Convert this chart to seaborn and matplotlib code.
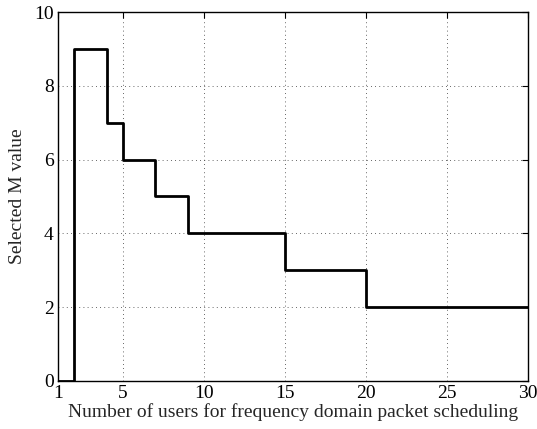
import numpy as np
import pandas as pd
import matplotlib.pyplot as plt
import seaborn as sns

# selected M per number of users (step, post)
users = list(range(1, 31))
m_value = [0, 9, 9, 7, 6, 6, 5, 5, 4, 4, 4, 4, 4, 4,
           3, 3, 3, 3, 3, 2, 2, 2, 2, 2, 2, 2, 2, 2, 2, 2]
x_ticks = [1, 5, 10, 15, 20, 25, 30]
y_ticks = [0, 2, 4, 6, 8, 10]

df = pd.DataFrame({'users': users, 'M': m_value})

sns.set_style('white')
plt.rcParams['font.family'] = ['Liberation Serif', 'DejaVu Serif']

fig = plt.figure(figsize=(5.37, 4.29), dpi=100)
ax = fig.add_axes([0.108, 0.112, 0.875, 0.86])

sns.lineplot(data=df, x='users', y='M', ax=ax, color='black', linewidth=2,
             drawstyle='steps-post')

ax.set_xlim(1, 30)
ax.set_ylim(0, 10)
ax.set_xticks(x_ticks)
ax.set_yticks(y_ticks)
ax.grid(True, linestyle=(0, (1, 4)), color='#333333', linewidth=0.6)
ax.tick_params(direction='in', length=4, labelsize=14, colors='black',
               top=True, right=True)
ax.tick_params(axis='x', pad=3)
ax.tick_params(axis='y', pad=3)
for s in ax.spines.values():
    s.set_color('black')
    s.set_linewidth(1)
    s.set_visible(True)

ax.set_xlabel('Number of users for frequency domain packet scheduling',
              fontsize=14, labelpad=0.5)
ax.set_ylabel('Selected M value', fontsize=14, labelpad=6)

fig.savefig('out.png', dpi=100)
